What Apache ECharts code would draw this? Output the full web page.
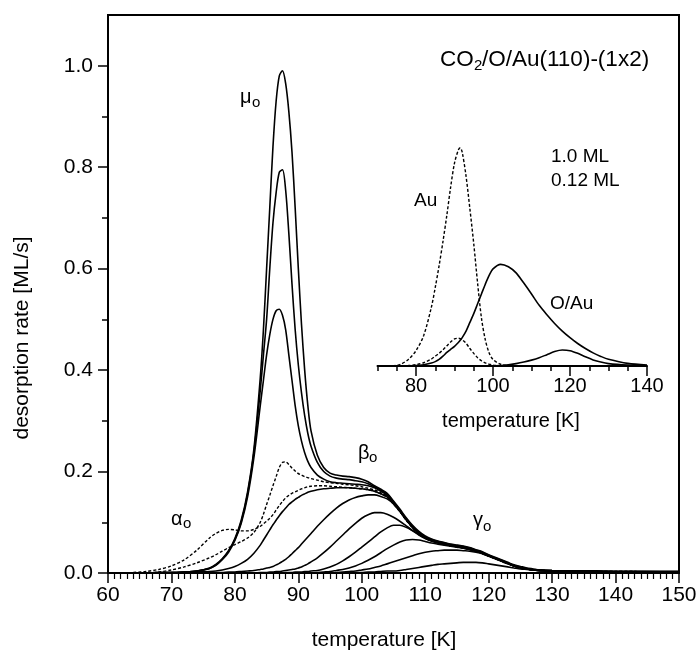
<!DOCTYPE html>
<html><head><meta charset="utf-8">
<script src="https://cdn.jsdelivr.net/npm/echarts@6/dist/echarts.min.js"></script>
<style>html,body{margin:0;padding:0;background:#fff}#c{width:700px;height:653px}</style>
</head><body><div id="c"></div>
<script>
// ---------- main panel: temperature grid [K] ----------
const T = [64,66,68,70,72,74,76, 77,78,79,80,81,82,83,84,
  84.5,85,85.5,86,86.5,87,87.5,88,88.5,89,89.5,90,90.5,91,91.5,92,
  93,94,95,96,97,98,99,100,101,102,103,104,105,106,107,108,109,110,111,112,113,114,115,116,117,118,119,120,121,122,123,124,125,126,127,128,
  130,135,140,150];

// desorption rates [ML/s]
const S1 = [0,0,0.001,0.001,0.002,0.004,0.010, 0.017,0.028,0.044,0.068,0.104,0.160,0.245,0.385,
  0.48,0.60,0.72,0.84,0.93,0.98,0.99,0.965,0.91,0.83,0.72,0.60,0.49,0.40,0.33,0.28,
  0.232,0.208,0.197,0.193,0.191,0.190,0.188,0.185,0.180,0.172,0.165,0.157,0.142,0.126,0.109,0.094,0.082,0.073,0.067,0.063,0.060,0.057,0.055,0.053,0.050,0.046,0.042,0.036,0.031,0.026,0.021,0.016,0.013,0.010,0.008,0.006,
  0.005,0.004,0.003,0.003];
const S2 = [0,0,0.001,0.001,0.002,0.004,0.009, 0.016,0.027,0.043,0.066,0.101,0.156,0.238,0.36,
  0.43,0.50,0.60,0.69,0.75,0.79,0.795,0.755,0.67,0.57,0.48,0.41,0.355,0.31,0.275,0.25,
  0.218,0.200,0.191,0.187,0.185,0.184,0.182,0.180,0.176,0.170,0.163,0.155,0.140,0.124,0.107,0.092,0.080,0.071,0.066,0.062,0.059,0.056,0.054,0.052,0.049,0.045,0.041,0.035,0.030,0.025,0.020,0.015,0.012,0.009,0.007,0.006,
  0.005,0.004,0.003,0.003];
const S3 = [0,0,0.001,0.001,0.002,0.004,0.009, 0.015,0.026,0.041,0.064,0.098,0.150,0.228,0.33,
  0.38,0.43,0.47,0.50,0.517,0.52,0.508,0.48,0.43,0.38,0.33,0.29,0.26,0.237,0.22,0.208,
  0.193,0.185,0.180,0.178,0.177,0.176,0.175,0.174,0.172,0.168,0.161,0.153,0.139,0.123,0.106,0.091,0.079,0.070,0.065,0.061,0.058,0.055,0.053,0.051,0.048,0.044,0.040,0.034,0.029,0.024,0.019,0.015,0.011,0.009,0.007,0.006,
  0.005,0.004,0.003,0.003];
const DB = [0,0,0.002,0.006,0.012,0.020,0.030, 0.036,0.043,0.050,0.056,0.062,0.069,0.080,0.100,
  0.116,0.135,0.153,0.172,0.19,0.208,0.218,0.219,0.214,0.207,0.201,0.196,0.193,0.190,0.188,0.186,
  0.183,0.180,0.178,0.177,0.175,0.174,0.172,0.170,0.167,0.164,0.158,0.151,0.137,0.122,0.105,0.090,0.078,0.069,0.064,0.060,0.057,0.054,0.052,0.050,0.047,0.044,0.039,0.034,0.029,0.024,0.019,0.014,0.011,0.008,0.007,0.005,
  0.004,0.003,0.003,0.002];
const DA = [0.001,0.003,0.007,0.014,0.026,0.045,0.069, 0.078,0.084,0.086,0.085,0.083,0.083,0.086,0.092,
  0.097,0.102,0.108,0.115,0.124,0.133,0.141,0.148,0.153,0.157,0.160,0.163,0.166,0.168,0.170,0.171,
  0.172,0.172,0.171,0.170,0.169,0.168,0.167,0.166,0.164,0.161,0.156,0.149,0.136,0.121,0.104,0.089,0.077,0.069,0.064,0.060,0.057,0.054,0.052,0.050,0.047,0.043,0.039,0.034,0.029,0.024,0.019,0.014,0.011,0.008,0.006,0.005,
  0.004,0.003,0.003,0.002];
const C1 = [0,0,0,0.001,0.001,0.002,0.003, 0.004,0.006,0.009,0.013,0.019,0.027,0.039,0.055,
  0.065,0.075,0.085,0.095,0.104,0.113,0.121,0.128,0.135,0.140,0.145,0.149,0.153,0.156,0.159,0.161,
  0.164,0.166,0.167,0.168,0.168,0.168,0.167,0.166,0.164,0.161,0.156,0.150,0.137,0.122,0.105,0.090,0.078,0.069,0.064,0.060,0.057,0.054,0.052,0.050,0.047,0.043,0.039,0.034,0.029,0.024,0.019,0.014,0.011,0.008,0.006,0.005,
  0.004,0.003,0.003,0.002];
const C2 = [0,0,0,0,0,0,0.001, 0.001,0.001,0.002,0.002,0.003,0.004,0.005,0.007,
  0.008,0.010,0.011,0.013,0.016,0.019,0.023,0.027,0.032,0.038,0.044,0.050,0.057,0.064,0.071,0.078,
  0.092,0.105,0.117,0.128,0.137,0.144,0.149,0.152,0.154,0.154,0.151,0.146,0.136,0.121,0.105,0.090,0.078,0.069,0.063,0.060,0.057,0.054,0.052,0.050,0.047,0.043,0.039,0.034,0.029,0.024,0.019,0.014,0.011,0.008,0.006,0.005,
  0.004,0.003,0.002,0.002];
const C3 = [0,0,0,0,0,0,0, 0,0,0,0,0,0,0,0.001,
  0.001,0.001,0.002,0.002,0.003,0.003,0.004,0.005,0.006,0.007,0.008,0.010,0.012,0.015,0.018,0.022,
  0.030,0.040,0.051,0.063,0.075,0.087,0.098,0.108,0.115,0.119,0.119,0.116,0.110,0.102,0.093,0.084,0.076,0.069,0.064,0.060,0.057,0.054,0.052,0.050,0.047,0.043,0.039,0.034,0.029,0.024,0.019,0.014,0.011,0.008,0.006,0.005,
  0.004,0.003,0.002,0.002];
const C4 = [0,0,0,0,0,0,0, 0,0,0,0,0,0,0,0,
  0,0,0,0,0,0,0,0.001,0.001,0.001,0.002,0.002,0.002,0.003,0.003,0.004,
  0.005,0.008,0.012,0.017,0.024,0.032,0.041,0.051,0.061,0.071,0.081,0.089,0.094,0.094,0.090,0.083,0.075,0.068,0.063,0.059,0.056,0.054,0.052,0.050,0.047,0.043,0.039,0.034,0.029,0.024,0.019,0.014,0.011,0.008,0.006,0.005,
  0.004,0.003,0.002,0.002];
const C5 = [0,0,0,0,0,0,0, 0,0,0,0,0,0,0,0,
  0,0,0,0,0,0,0,0,0,0,0,0,0,0,0,0,
  0.001,0.002,0.003,0.005,0.007,0.010,0.014,0.019,0.025,0.032,0.040,0.048,0.055,0.061,0.065,0.066,0.065,0.062,0.059,0.057,0.055,0.053,0.051,0.049,0.046,0.043,0.039,0.034,0.029,0.024,0.019,0.014,0.011,0.008,0.006,0.005,
  0.004,0.003,0.002,0.002];
const C6 = [0,0,0,0,0,0,0, 0,0,0,0,0,0,0,0,
  0,0,0,0,0,0,0,0,0,0,0,0,0,0,0,0,
  0,0,0,0.001,0.002,0.003,0.004,0.006,0.008,0.011,0.014,0.018,0.022,0.026,0.030,0.034,0.038,0.041,0.043,0.044,0.045,0.045,0.045,0.044,0.043,0.041,0.038,0.033,0.028,0.023,0.018,0.014,0.010,0.008,0.006,0.005,
  0.004,0.003,0.002,0.002];
const C7 = [0,0,0,0,0,0,0, 0,0,0,0,0,0,0,0,
  0,0,0,0,0,0,0,0,0,0,0,0,0,0,0,0,
  0,0,0,0,0,0,0.001,0.001,0.002,0.002,0.003,0.004,0.004,0.005,0.007,0.009,0.011,0.013,0.015,0.017,0.018,0.019,0.020,0.021,0.021,0.021,0.020,0.018,0.016,0.014,0.012,0.010,0.008,0.007,0.006,0.005,
  0.004,0.003,0.002,0.002];

// ---------- inset: temperature grid [K] and relative rates ----------
const TI = [70,72,74,76,78,80,82,84, 85,86,87,88,89,90,91,91.5, 92,93,94,95,96,97,98,99,100,
  102,104,106,108,110,112,114,116,118,120,122,124,126,128,130, 135,140];
const AU_BIG = [0,0,0.001,0.008,0.03,0.07,0.14,0.27, 0.36,0.46,0.57,0.69,0.82,0.93,0.99,1.0,
  0.98,0.87,0.72,0.56,0.38,0.22,0.12,0.06,0.03,
  0.008,0.002,0,0,0,0,0,0,0,0,0,0,0,0,0, 0,0];
const AU_SMALL = [0,0,0,0.001,0.002,0.006,0.015,0.032, 0.045,0.058,0.074,0.092,0.11,0.124,0.127,0.125,
  0.12,0.104,0.08,0.058,0.038,0.024,0.014,0.008,0.004,
  0.001,0,0,0,0,0,0,0,0,0,0,0,0,0,0, 0,0];
const OAU_BIG = [0,0,0,0,0.001,0.002,0.006,0.014, 0.02,0.03,0.045,0.062,0.076,0.09,0.108,0.118,
  0.13,0.16,0.2,0.24,0.285,0.33,0.375,0.415,0.445,
  0.466,0.455,0.427,0.38,0.33,0.278,0.235,0.195,0.16,0.13,0.103,0.08,0.06,0.044,0.031, 0.012,0.004];
const OAU_SMALL = [0,0,0,0,0,0,0,0, 0,0,0,0,0,0,0,0,
  0,0,0,0,0,0,0,0,0,
  0.002,0.006,0.011,0.018,0.027,0.038,0.052,0.066,0.073,0.07,0.058,0.042,0.028,0.018,0.011, 0.004,0.001];

const X_TICKS_MAIN = [60,70,80,90,100,110,120,130,140,150];
const Y_TICKS = [0,0.2,0.4,0.6,0.8,1.0];
const Y_MINOR = [0.1,0.3,0.5,0.7,0.9];
const X_TICKS_INSET = [80,100,120,140];

// ---------- build chart ----------
const FONT = '"Liberation Sans", Arial, Helvetica, sans-serif';
const chart = echarts.init(document.getElementById('c'), null, {renderer: 'canvas'});
function pts(t, v) { return t.map((x, i) => [x, v[i]]); }
const solid = {color: '#000', width: 1.6, type: 'solid'};
const dotted = {color: '#000', width: 1.4, type: [3, 2]};
function line(name, t, v, style, xi, yi) {
  return {name, type: 'line', xAxisIndex: xi, yAxisIndex: yi, data: pts(t, v),
    showSymbol: false, symbol: 'none', smooth: 0.3, lineStyle: style, silent: true, z: 3};
}
const mainSeries = [
  ['S1', S1, solid], ['S2', S2, solid], ['S3', S3, solid],
  ['DB', DB, dotted], ['DA', DA, dotted],
  ['C1', C1, solid], ['C2', C2, solid], ['C3', C3, solid], ['C4', C4, solid],
  ['C5', C5, solid], ['C6', C6, solid], ['C7', C7, solid]
].map(s => line(s[0], T, s[1], s[2], 0, 0));
const insetSeries = [
  line('Au', TI, AU_BIG, dotted, 1, 2), line('Au small', TI, AU_SMALL, dotted, 1, 2),
  line('O/Au', TI, OAU_BIG, solid, 1, 2), line('O/Au small', TI, OAU_SMALL, solid, 1, 2)
];

function txt(text, x, y, size, align) {
  return {type: 'text', x, y, z: 10, style: {text, fill: '#000', font: size + 'px ' + FONT,
    align: align || 'left', textAlign: align || 'left', verticalAlign: 'middle', textVerticalAlign: 'middle'}};
}
const axisLbl = {color: '#000', fontSize: 21, fontFamily: FONT};

const option = {
  animation: false,
  backgroundColor: '#fff',
  grid: [
    {left: 108, right: 21, top: 15, bottom: 80, show: true, borderColor: '#000', borderWidth: 2, backgroundColor: 'transparent'},
    {left: 377.5, width: 269.5, top: 126, height: 240, show: false}
  ],
  xAxis: [
    {gridIndex: 0, type: 'value', position: 'bottom', min: 60, max: 150, interval: 10,
      axisLine: {lineStyle: {color: '#000', width: 2}},
      axisTick: {length: 10, lineStyle: {color: '#000', width: 1.5}},
      minorTick: {show: true, splitNumber: 10, length: 6, lineStyle: {color: '#000', width: 1.2}},
      splitLine: {show: false},
      axisLabel: Object.assign({margin: 12, customValues: X_TICKS_MAIN}, axisLbl)},
    {gridIndex: 1, type: 'value', position: 'bottom', min: 70, max: 140, interval: 5,
      axisLine: {lineStyle: {color: '#000', width: 2}},
      axisTick: {length: 5, lineStyle: {color: '#000', width: 1.5}},
      splitLine: {show: false},
      axisLabel: {margin: 10, customValues: X_TICKS_INSET, color: '#000', fontSize: 20, fontFamily: FONT}},
    {gridIndex: 1, type: 'value', position: 'bottom', min: 70, max: 140,
      axisLine: {show: false},
      axisTick: {customValues: X_TICKS_INSET, length: 10, lineStyle: {color: '#000', width: 1.5}},
      splitLine: {show: false}, axisLabel: {show: false}}
  ],
  yAxis: [
    {gridIndex: 0, type: 'value', position: 'left', min: 0, max: 1.1,
      axisLine: {show: true, lineStyle: {color: '#000', width: 2}},
      axisTick: {show: true, customValues: Y_TICKS, length: 10, lineStyle: {color: '#000', width: 1.5}},
      splitLine: {show: false},
      axisLabel: Object.assign({margin: 15, customValues: Y_TICKS, formatter: v => v.toFixed(1)}, axisLbl)},
    {gridIndex: 0, type: 'value', position: 'left', min: 0, max: 1.1,
      axisLine: {show: false},
      axisTick: {show: true, customValues: Y_MINOR, length: 6, lineStyle: {color: '#000', width: 1.5}},
      splitLine: {show: false}, axisLabel: {show: false}},
    {gridIndex: 1, type: 'value', min: 0, max: 1.1, show: false}
  ],
  series: mainSeries.concat(insetSeries),
  graphic: [
    {type: 'text', x: 22, y: 338, rotation: Math.PI / 2, z: 10,
      style: {text: 'desorption rate [ML/s]', fill: '#000', font: '21px ' + FONT,
        align: 'center', textAlign: 'center', verticalAlign: 'middle', textVerticalAlign: 'middle'}},
    txt('temperature [K]', 384, 640, 21, 'center'),
    txt('temperature [K]', 511, 421, 20, 'center'),
    txt('CO', 440, 60, 22.5), txt('2', 474, 66, 15), txt('/O/Au(110)-(1x2)', 482, 60, 22.5),
    txt('1.0 ML', 551, 157, 19),
    txt('0.12 ML', 551, 181, 19),
    txt('Au', 414, 201, 19),
    txt('O/Au', 550, 304, 19),
    txt('\u03bc', 240, 97, 20), txt('o', 252, 103, 15),
    txt('\u03b1', 171, 519, 20), txt('o', 183, 524, 15),
    txt('\u03b2', 358, 453, 20), txt('o', 369, 458, 15),
    txt('\u03b3', 473, 520, 20), txt('o', 483, 527, 15)
  ]
};
chart.setOption(option);
</script>
</body></html>
